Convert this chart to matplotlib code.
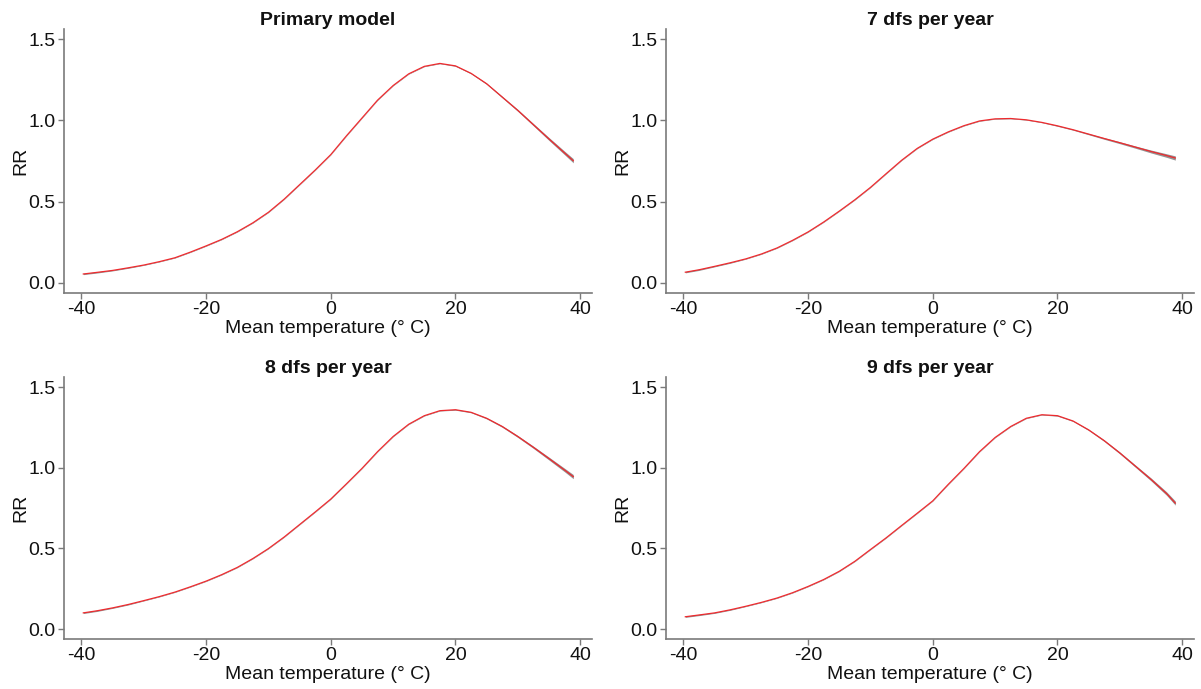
import matplotlib
matplotlib.use("Agg")
import matplotlib.pyplot as plt
import numpy as np

plt.rcParams['font.family'] = ['Liberation Sans', 'DejaVu Sans']

# Temperature grid (°C)
temperature = [-39.7, -37.5, -35, -32.5, -30, -27.5, -25, -22.5, -20, -17.5, -15, -12.5,
               -10, -7.5, -5, -2.5, 0, 2.5, 5, 7.5, 10, 12.5, 15, 17.5, 20, 22.5, 25,
               27.5, 30, 32.5, 35, 37.5, 38.9]

# Relative risk curves
rr_primary = [0.055, 0.065, 0.077, 0.093, 0.110, 0.131, 0.155, 0.190, 0.228, 0.268, 0.315,
              0.370, 0.435, 0.515, 0.605, 0.695, 0.790, 0.905, 1.015, 1.125, 1.215, 1.287,
              1.333, 1.351, 1.336, 1.290, 1.226, 1.144, 1.062, 0.974, 0.886, 0.800, 0.752]
rr_7df = [0.066, 0.081, 0.102, 0.124, 0.148, 0.178, 0.215, 0.262, 0.314, 0.375, 0.442,
          0.512, 0.588, 0.672, 0.755, 0.828, 0.885, 0.930, 0.968, 0.997, 1.010, 1.012,
          1.004, 0.988, 0.967, 0.943, 0.916, 0.889, 0.863, 0.836, 0.809, 0.784, 0.769]
rr_8df = [0.100, 0.113, 0.131, 0.152, 0.176, 0.201, 0.229, 0.262, 0.297, 0.337, 0.382,
          0.437, 0.499, 0.570, 0.648, 0.726, 0.806, 0.900, 0.996, 1.100, 1.194, 1.270,
          1.323, 1.354, 1.360, 1.344, 1.307, 1.256, 1.194, 1.127, 1.057, 0.986, 0.945]
rr_9df = [0.076, 0.087, 0.100, 0.119, 0.141, 0.165, 0.192, 0.225, 0.264, 0.307, 0.358,
          0.420, 0.493, 0.565, 0.642, 0.718, 0.795, 0.898, 0.996, 1.100, 1.188, 1.256,
          1.307, 1.329, 1.323, 1.290, 1.235, 1.168, 1.092, 1.010, 0.928, 0.840, 0.781]

# Confidence band half-width (very narrow)
ci_halfwidth = [0.004, 0.004, 0.003, 0.003, 0.002, 0.002, 0.002, 0.002, 0.002, 0.002,
                0.002, 0.002, 0.002, 0.002, 0.002, 0.002, 0.002, 0.002, 0.002, 0.002,
                0.002, 0.002, 0.002, 0.002, 0.003, 0.003, 0.004, 0.005, 0.006, 0.007,
                0.009, 0.011, 0.013]

titles = ["Primary model", "7 dfs per year", "8 dfs per year", "9 dfs per year"]
series = [rr_primary, rr_7df, rr_8df, rr_9df]

xticks = [-40, -20, 0, 20, 40]
yticks = [0.0, 0.5, 1.0, 1.5]
ytick_labels = ["0.0", "0.5", "1.0", "1.5"]

W, H = 1201, 689
fig = plt.figure(figsize=(W / 100, H / 100), dpi=100)

# axes rectangles in pixels: (left, top, right, bottom)
rects = [(64, 29, 592, 293), (666, 29, 1194, 293),
         (64, 377, 592, 639), (666, 377, 1194, 639)]

spine_col = "#7a7a7a"
x = np.array(temperature)
ci = np.array(ci_halfwidth)

for (l, t, r, b), title, vals in zip(rects, titles, series):
    ax = fig.add_axes([l / W, 1 - b / H, (r - l) / W, (b - t) / H])
    y = np.array(vals)
    ax.fill_between(x, y - ci, y + ci, color="#808080", alpha=0.85, linewidth=0,
                    zorder=2)
    ax.plot(x, y, color="#ee2a2e", linewidth=0.9, zorder=3,
            solid_joinstyle="round")
    ax.set_xlim(-42.8, 41.9)
    ax.set_ylim(-0.062, 1.563)
    ax.set_xticks(xticks)
    ax.set_xticklabels([str(v) for v in xticks])
    ax.set_yticks(yticks)
    ax.set_yticklabels(ytick_labels)
    for s in ["top", "right"]:
        ax.spines[s].set_visible(False)
    for s in ["left", "bottom"]:
        ax.spines[s].set_color(spine_col)
        ax.spines[s].set_linewidth(1.2)
    ax.tick_params(axis="both", colors=spine_col, labelcolor="#111111",
                   labelsize=14, length=4, width=1.0, pad=2)
    ax.set_title(title, fontsize=14, fontweight="bold", pad=3, color="#111111")
    ax.set_xlabel("Mean temperature (° C)", fontsize=14, labelpad=1, color="#111111")
    ax.set_ylabel("RR", fontsize=14, color="#111111")
    ax.yaxis.set_label_coords(-0.066, 0.5)

fig.savefig("out.png", dpi=100, facecolor="white")
